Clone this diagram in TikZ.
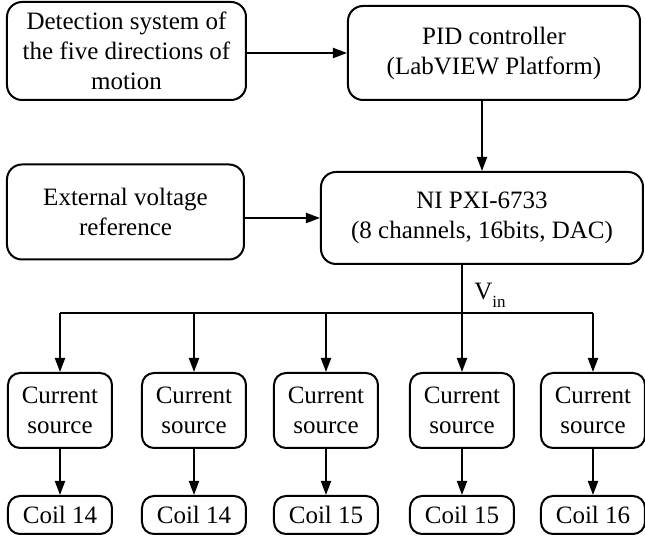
\documentclass[tikz,border=0pt]{standalone}
\usepackage{fontspec}
\setmainfont{Liberation Serif}
\usetikzlibrary{arrows.meta}
\tikzset{
  box/.style={draw, line width=1pt, rounded corners=7.5pt, align=center, inner sep=0pt,
    font=\fontsize{12.5}{15}\selectfont},
  smallbox/.style={box, rounded corners=6pt, minimum width=52pt},
  arr/.style={line width=1pt, -{Triangle[length=7pt,width=5pt]}},
  ln/.style={line width=1pt}
}
\begin{document}
\begin{tikzpicture}[x=0.5pt,y=-0.5pt]
\useasboundingbox (0,0) rectangle (645,539);
\node[box, minimum width=119.5pt, minimum height=49pt] (det) at (126.5,51)
  {Detection system of\\the five directions of\\motion};
\node[box, minimum width=146pt, minimum height=47pt] (pid) at (494,53)
  {PID controller\\(LabVIEW Platform)};
\node[box, minimum width=118.5pt, minimum height=47.5pt] (ext) at (125.5,212)
  {External voltage\\reference};
\node[box, minimum width=161pt, minimum height=46pt] (ni) at (482,218)
  {NI PXI-6733\\(8 channels, 16bits, DAC)};
\foreach \i/\cx/\c in {1/60/14, 2/194/14, 3/326/15, 4/462/15, 5/593/16} {
  \node[smallbox, minimum height=37.5pt] (cs\i) at (\cx,410.5) {Current\\source};
  \node[smallbox, minimum height=19pt] (coil\i) at (\cx,515) {Coil \c};
  \draw[arr] (cs\i.south) -- (coil\i.north);
}
\coordinate (busy) at (0,313);
\draw[arr] (det.east |- pid.west) -- (pid.west);
\draw[arr] (ext.east |- ni.west) -- (ni.west);
\draw[arr] (pid.south -| ni.north) -- (ni.north);
\draw[arr] (ni.south -| cs4.north) -- (cs4.north);
\draw[ln] (cs1.north |- busy) -- (cs5.north |- busy);
\foreach \i in {1,2,3,5} {
  \draw[arr] (cs\i.north |- busy) -- (cs\i.north);
}
\node[anchor=base west, inner sep=0pt, font=\fontsize{12.5}{15}\selectfont] (vin) at (474,300)
  {V\raisebox{-0.3em}{\fontsize{8.5}{10}\selectfont in}};
\end{tikzpicture}
\end{document}
